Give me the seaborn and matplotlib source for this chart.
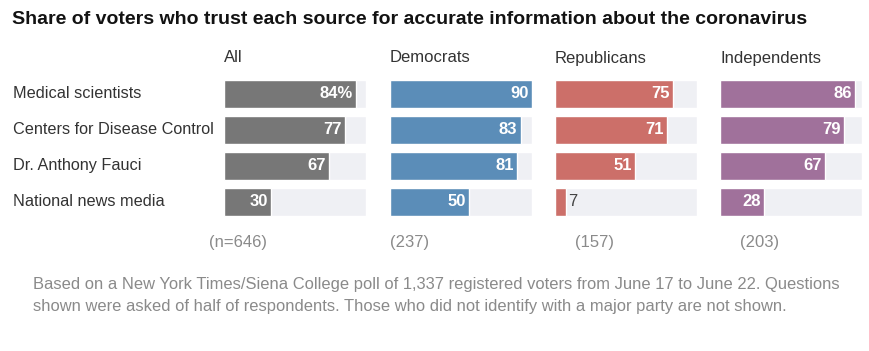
import matplotlib
matplotlib.use("Agg")
import matplotlib.pyplot as plt
import seaborn as sns
import pandas as pd

sources = ["Medical scientists", "Centers for Disease Control", "Dr. Anthony Fauci", "National news media"]
groups = ["All", "Democrats", "Republicans", "Independents"]
sample_sizes = ["(n=646)", "(237)", "(157)", "(203)"]
all_voters = [84, 77, 67, 30]
democrats = [90, 83, 81, 50]
republicans = [75, 71, 51, 7]
independents = [86, 79, 67, 28]
colors = ["#777777", "#5b8db8", "#cc6f69", "#a0719b"]

sns.set_theme(style="white")
plt.rcParams["font.family"] = ["Liberation Sans", "DejaVu Sans"]

W, H = 869, 351
fig = plt.figure(figsize=(W / 100, H / 100), dpi=100)
fig.patch.set_facecolor("white")

fig.text(12 / W, 1 - 19 / H, "Share of voters who trust each source for accurate information about the coronavirus",
         fontsize=14, fontweight="bold", color="#121212", va="center", ha="left")

series = [all_voters, democrats, republicans, independents]
track_max = max(max(s) for s in series)
lefts = [224, 390, 555, 720]
n_lefts = [209, 390, 575, 740]
panel_w = 142

for i, (grp, vals, col, n) in enumerate(zip(groups, series, colors, sample_sizes)):
    ax = fig.add_axes([lefts[i] / W, 1 - 220 / H, panel_w / W, 144 / H])
    df = pd.DataFrame({"source": sources, "value": vals, "track": [track_max] * len(sources)})
    sns.barplot(data=df, y="source", x="track", color="#eff0f4", width=0.8, ax=ax, saturation=1)
    sns.barplot(data=df, y="source", x="value", color=col, width=0.8, ax=ax, saturation=1)
    ax.set_xlim(0, track_max + 0.3)
    ax.set_ylim(3.5, -0.5)
    ax.axis("off")
    for j, v in enumerate(vals):
        label = f"{v}%" if (i == 0 and j == 0) else str(v)
        if v >= 15:
            ax.text(v - 2, j, label, ha="right", va="center", color="white",
                    fontsize=12, fontweight="bold")
        else:
            ax.text(v + 1.5, j, label, ha="left", va="center", color="#444444", fontsize=12)
    fig.text(lefts[i] / W, 1 - 58 / H, grp, fontsize=12, color="#333333", va="center", ha="left")
    fig.text(n_lefts[i] / W, 1 - 242 / H, n, fontsize=12, color="#8a8a8a", va="center", ha="left")

for j, s in enumerate(sources):
    fig.text(13 / W, 1 - (94 + 36 * j) / H, s, fontsize=11.7, color="#333333", va="center", ha="left")

fig.text(33 / W, 1 - 285 / H,
         "Based on a New York Times/Siena College poll of 1,337 registered voters from June 17 to June 22. Questions",
         fontsize=11.9, color="#8a8a8a", va="center", ha="left")
fig.text(33 / W, 1 - 307 / H,
         "shown were asked of half of respondents. Those who did not identify with a major party are not shown.",
         fontsize=11.9, color="#8a8a8a", va="center", ha="left")

fig.savefig("out.png", dpi=100, facecolor="white")
